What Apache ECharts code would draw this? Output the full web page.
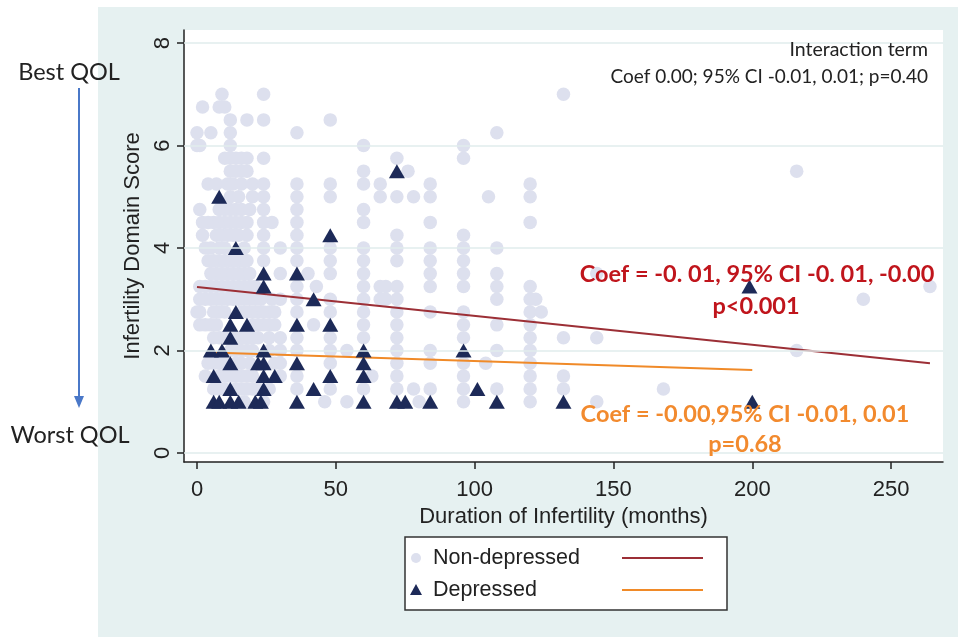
<!DOCTYPE html>
<html>
<head>
<meta charset="utf-8">
<script src="https://cdn.jsdelivr.net/npm/echarts@6/dist/echarts.min.js"></script>
<style>
html, body { margin: 0; padding: 0; background: #fff; }
#panel { position: absolute; left: 98px; top: 7px; width: 860px; height: 630px; background: #e6f1f1; }
#main { position: absolute; left: 0; top: 0; width: 958px; height: 637px; }
</style>
</head>
<body>
<div id="panel"></div>
<div id="main"></div>
<script>
// tick labels
var xTicks = [0, 50, 100, 150, 200, 250];
var yTicks = [0, 2, 4, 6, 8];

// non-depressed, short durations: one row per score, months in that row
var ndRowScores = [7.0, 6.75, 6.5, 6.25, 6.0, 5.75, 5.5, 5.25, 5.0, 4.75, 4.5, 4.25, 4.0,
    3.75, 3.5, 3.25, 3.0, 2.75, 2.5, 2.25, 2.0, 1.75, 1.5, 1.25, 1.0];
var ndRowMonths = [
    [9, 24],
    [2, 8, 10],
    [12, 18, 24],
    [0, 5, 12],
    [0, 1, 12],
    [10, 12, 14, 16, 18, 24],
    [12, 14, 16, 18],
    [4, 7, 11, 13, 16, 20, 24],
    [12, 15, 20, 24],
    [1, 8, 10, 12, 14, 16, 19, 24],
    [2, 4, 6, 8, 10, 12, 14, 16, 18, 24, 27],
    [2, 7, 9, 11, 13, 15, 18, 24],
    [3, 5, 8, 10, 17, 24, 30],
    [4, 6, 8, 10, 12, 14, 16, 18, 24],
    [5, 7, 9, 11, 13, 15, 17, 19, 30],
    [1, 3, 5, 7, 9, 11, 13, 15, 17, 19, 21],
    [1, 3, 5, 7, 9, 11, 13, 15, 17, 19, 21, 23, 27, 30],
    [0, 1, 6, 8, 10, 16, 18, 20, 22, 24, 26, 28],
    [1, 3, 5, 7, 20, 22, 24, 26, 28],
    [6, 8, 10, 14, 16, 18, 20, 22, 26, 30],
    [12, 14, 16, 18, 20, 26, 30],
    [4, 6, 8, 10, 14, 16, 19, 28, 30],
    [3, 8, 10, 12, 14, 16, 18, 20, 30],
    [6, 8, 10, 14, 16, 18, 20, 22, 26],
    [17, 24]
];

// non-depressed, longer durations: one column per month value, scores in it
var ndColMonths = [36, 40, 42, 43, 46, 48, 54, 60, 63, 66, 68, 72, 76, 78, 80, 84, 96,
    104, 105, 108, 120, 122, 124, 132, 144, 168, 216, 240, 264];
var ndColScores = [
    [6.25, 5.25, 5.0, 4.75, 4.5, 4.25, 4.0, 3.75, 3.25, 3.0, 2.75, 2.25, 2.0, 1.5, 1.25],
    [3.5],
    [2.5],
    [3.25],
    [1.0],
    [6.5, 5.25, 5.0, 4.0, 3.75, 3.5, 3.0, 2.75, 2.25, 2.0, 1.75, 1.25],
    [2.0, 1.0],
    [6.0, 5.5, 5.25, 4.75, 4.5, 4.0, 3.75, 3.5, 3.25, 3.0, 2.75, 2.5, 2.25, 1.25],
    [1.5],
    [5.25, 5.0, 3.25, 3.0],
    [3.25, 3.0],
    [5.75, 5.0, 4.25, 4.0, 3.75, 3.25, 3.0, 2.75, 2.5, 2.25, 2.0, 1.75, 1.5, 1.25],
    [5.5],
    [5.0, 1.25],
    [1.0],
    [5.25, 5.0, 4.5, 4.0, 3.75, 3.5, 3.25, 2.75, 2.0, 1.75, 1.25],
    [6.0, 5.75, 4.25, 4.0, 3.75, 3.5, 3.25, 2.75, 2.5, 2.25, 1.75, 1.5, 1.25, 1.0],
    [1.75],
    [5.0],
    [6.25, 4.0, 3.5, 3.25, 3.0, 2.5, 2.0, 1.25],
    [5.25, 5.0, 4.5, 3.25, 3.0, 2.75, 2.5, 2.25, 2.0, 1.75, 1.5, 1.25, 1.0],
    [3.0],
    [2.75],
    [7.0, 2.25, 1.5, 1.25],
    [3.5, 2.25, 1.0],
    [1.25],
    [5.5, 2.0],
    [3.0],
    [3.25]
];

// depressed: [months, score]
var depressed = [
    [8, 5.0], [72, 5.5], [48, 4.25], [14, 4.0], [24, 3.5], [24, 3.25], [36, 3.5], [42, 3.0],
    [14, 2.75], [12, 2.5], [18, 2.5], [36, 2.5], [48, 2.5], [12, 2.25], [5, 2.0], [9, 2.0],
    [24, 2.0], [60, 2.0], [96, 2.0], [12, 1.75], [22, 1.75], [24, 1.75], [36, 1.75], [60, 1.75],
    [6, 1.5], [24, 1.5], [28, 1.5], [48, 1.5], [60, 1.5], [12, 1.25], [24, 1.25], [42, 1.25],
    [101, 1.25], [6, 1.0], [8, 1.0], [12, 1.0], [15, 1.0], [21, 1.0], [23, 1.0], [36, 1.0],
    [60, 1.0], [72, 1.0], [75, 1.0], [84, 1.0], [108, 1.0], [132, 1.0], [199, 3.25], [200, 1.0]
];

// fitted lines
var fitNonDep = [[0, 3.24], [264, 1.75]];
var fitDep = [[5, 1.96], [200, 1.62]];

var nonDepressed = [];
for (var i = 0; i < ndRowScores.length; i++) {
    for (var j = 0; j < ndRowMonths[i].length; j++) {
        nonDepressed.push([ndRowMonths[i][j], ndRowScores[i]]);
    }
}
for (var i = 0; i < ndColMonths.length; i++) {
    for (var j = 0; j < ndColScores[i].length; j++) {
        nonDepressed.push([ndColMonths[i], ndColScores[i][j]]);
    }
}

var axisFont = '"Liberation Sans Narrow", "Liberation Sans", sans-serif';
var noteFont = 'Lato, "Open Sans", sans-serif';

var myChart = echarts.init(document.getElementById('main'));

var option = {
    animation: false,
    backgroundColor: 'transparent',
    grid: {
        left: 184, right: 15, top: 30, bottom: 175,
        show: true, backgroundColor: '#fff', borderWidth: 0
    },
    xAxis: {
        type: 'value',
        min: -4.68,
        max: 268.7,
        axisLine: { show: true, onZero: false, lineStyle: { color: '#222', width: 1.5 } },
        axisTick: { show: true, customValues: xTicks, length: 7, lineStyle: { color: '#222', width: 1.5 } },
        axisLabel: { customValues: xTicks, fontFamily: axisFont, fontSize: 22, color: '#222', margin: 17 },
        splitLine: { show: false },
        name: 'Duration of Infertility (months)',
        nameLocation: 'middle',
        nameGap: 41,
        nameTextStyle: { fontFamily: axisFont, fontSize: 22, color: '#222' }
    },
    yAxis: {
        type: 'value',
        min: -0.176,
        max: 8.254,
        axisLine: { show: true, onZero: false, lineStyle: { color: '#222', width: 1.5 } },
        axisTick: { show: true, customValues: yTicks, length: 7, lineStyle: { color: '#222', width: 1.5 } },
        axisLabel: { customValues: yTicks, rotate: 90, fontFamily: axisFont, fontSize: 22, color: '#222', margin: 10 },
        splitLine: { show: false },
        name: 'Infertility Domain Score',
        nameLocation: 'middle',
        nameGap: 40,
        nameTextStyle: { fontFamily: axisFont, fontSize: 22, color: '#222' }
    },
    series: [
        {
            // horizontal grid lines
            type: 'line',
            data: [],
            z: 1,
            silent: true,
            markLine: {
                silent: true,
                symbol: 'none',
                label: { show: false },
                lineStyle: { color: '#e0eded', width: 1.5, type: 'solid' },
                data: yTicks.map(function (v) { return { yAxis: v }; })
            }
        },
        {
            name: 'Non-depressed',
            type: 'scatter',
            data: nonDepressed,
            symbol: 'circle',
            symbolSize: 13.5,
            itemStyle: { color: '#dde0ee', opacity: 1 },
            z: 2
        },
        {
            type: 'line',
            data: fitNonDep,
            showSymbol: false,
            symbol: 'none',
            lineStyle: { color: '#9c2f36', width: 2 },
            z: 3
        },
        {
            type: 'line',
            data: fitDep,
            showSymbol: false,
            symbol: 'none',
            lineStyle: { color: '#f08a28', width: 2 },
            z: 3
        },
        {
            name: 'Depressed',
            type: 'scatter',
            data: depressed,
            symbol: 'triangle',
            symbolSize: [16, 14],
            itemStyle: { color: '#1d2a58', opacity: 1 },
            z: 4
        }
    ],
    graphic: [
        { type: 'text', style: { x: 69, y: 72, text: 'Best QOL', textAlign: 'center', textVerticalAlign: 'middle', font: '23.5px ' + noteFont, fill: '#222' } },
        { type: 'text', style: { x: 70, y: 435, text: 'Worst QOL', textAlign: 'center', textVerticalAlign: 'middle', font: '23.5px ' + noteFont, fill: '#222' } },
        { type: 'line', shape: { x1: 79, y1: 88, x2: 79, y2: 398 }, style: { stroke: '#4a78c8', lineWidth: 2 } },
        { type: 'polygon', shape: { points: [[74, 396], [84, 396], [79, 408]] }, style: { fill: '#4a78c8' } },

        { type: 'text', z: 10, style: { x: 928, y: 50, text: 'Interaction term', textAlign: 'right', textVerticalAlign: 'middle', font: '19.5px ' + noteFont, fill: '#222' } },
        { type: 'text', z: 10, style: { x: 928, y: 77, text: 'Coef 0.00; 95% CI -0.01, 0.01; p=0.40', textAlign: 'right', textVerticalAlign: 'middle', font: '19px ' + noteFont, fill: '#222' } },
        { type: 'text', z: 10, style: { x: 757, y: 274, text: 'Coef = -0. 01, 95% CI -0. 01, -0.00', textAlign: 'center', textVerticalAlign: 'middle', font: 'bold 23.5px ' + noteFont, fill: '#c0151c' } },
        { type: 'text', z: 10, style: { x: 756, y: 306, text: 'p<0.001', textAlign: 'center', textVerticalAlign: 'middle', font: 'bold 23.5px ' + noteFont, fill: '#c0151c' } },
        { type: 'text', z: 10, style: { x: 745, y: 414, text: 'Coef = -0.00,95% CI -0.01, 0.01', textAlign: 'center', textVerticalAlign: 'middle', font: 'bold 23.5px ' + noteFont, fill: '#f28a2e' } },
        { type: 'text', z: 10, style: { x: 745, y: 444, text: 'p=0.68', textAlign: 'center', textVerticalAlign: 'middle', font: 'bold 23.5px ' + noteFont, fill: '#f28a2e' } },

        // legend box
        { type: 'rect', z: 10, shape: { x: 405, y: 537, width: 322, height: 73 }, style: { fill: '#fff', stroke: '#333', lineWidth: 1.5 } },
        { type: 'circle', z: 11, shape: { cx: 416, cy: 558, r: 5 }, style: { fill: '#dde0ee' } },
        { type: 'text', z: 11, style: { x: 433, y: 558, text: 'Non-depressed', textVerticalAlign: 'middle', font: '21.5px ' + axisFont, fill: '#222' } },
        { type: 'line', z: 11, shape: { x1: 622, y1: 558, x2: 703, y2: 558 }, style: { stroke: '#9c2f36', lineWidth: 2 } },
        { type: 'polygon', z: 11, shape: { points: [[410, 595], [422, 595], [416, 584]] }, style: { fill: '#1d2a58' } },
        { type: 'text', z: 11, style: { x: 433, y: 590, text: 'Depressed', textVerticalAlign: 'middle', font: '21.5px ' + axisFont, fill: '#222' } },
        { type: 'line', z: 11, shape: { x1: 622, y1: 590, x2: 703, y2: 590 }, style: { stroke: '#f08a28', lineWidth: 2 } }
    ]
};

myChart.setOption(option);
</script>
</body>
</html>
